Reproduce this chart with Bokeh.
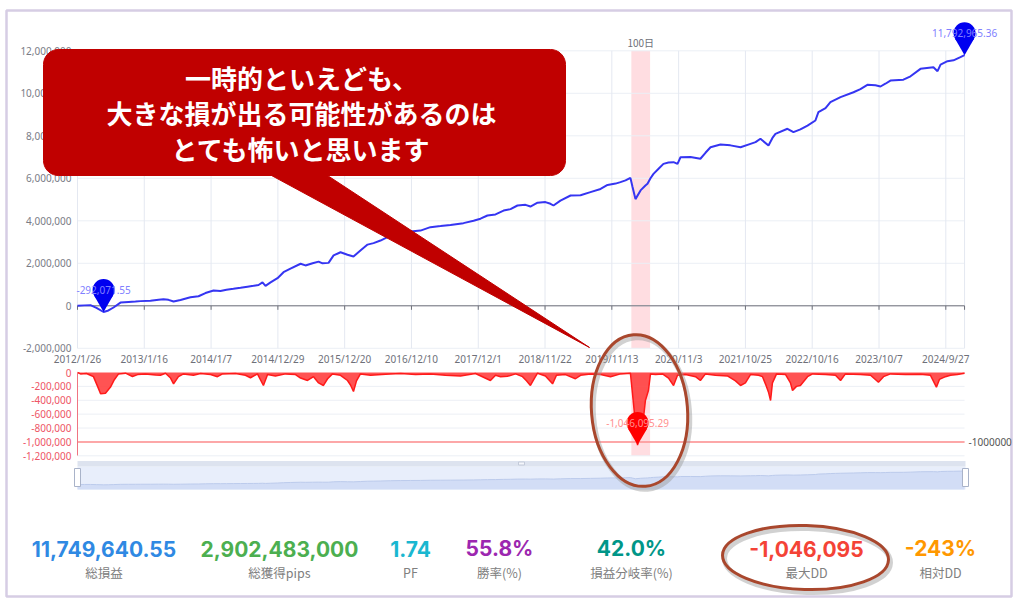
import numpy as np
from bokeh.plotting import figure
from bokeh.models import Range1d, LinearAxis, FixedTicker, NumeralTickFormatter
from bokeh.embed import file_html
from bokeh.resources import INLINE
from bokeh.core.properties import value

# ---------------- data ----------------
equity_day = [0, 37, 69, 101, 139, 165, 192, 229, 272, 309,
              336, 389, 432, 458, 485, 512, 549, 602, 645, 682,
              725, 762, 794, 831, 869, 906, 938, 965, 986, 1002,
              1029, 1066, 1098, 1135, 1189, 1215, 1253, 1285, 1306, 1338,
              1365, 1402, 1439, 1471, 1508, 1546, 1578, 1615, 1668, 1722,
              1775, 1828, 1881, 1935, 1988, 2057, 2111, 2148, 2185, 2228,
              2271, 2308, 2345, 2388, 2414, 2452, 2494, 2521, 2537, 2574,
              2628, 2681, 2734, 2788, 2825, 2868, 2894, 2921, 2947, 2958,
              2974, 3001, 3027, 3038, 3054, 3070, 3097, 3123, 3150, 3177,
              3198, 3214, 3267, 3320, 3347, 3374, 3427, 3480, 3534, 3587,
              3614, 3640, 3683, 3704, 3720, 3784, 3816, 3853, 3891, 3933,
              3949, 3987, 4013, 4040, 4067, 4136, 4173, 4210, 4253, 4280,
              4306, 4333, 4402, 4440, 4493, 4562, 4584, 4600, 4637, 4669,
              4706, 4728]
equity_val = [0, 20000, 30000, -100000, -292071.55, -220000, -80000, 150000, 180000, 200000,
              220000, 240000, 290000, 310000, 280000, 200000, 270000, 400000, 450000, 600000,
              720000, 700000, 760000, 800000, 850000, 900000, 940000, 980000, 1100000, 940000,
              1100000, 1300000, 1580000, 1750000, 1980000, 1900000, 2000000, 2080000, 2000000, 2020000,
              2370000, 2520000, 2400000, 2320000, 2600000, 2880000, 2950000, 3070000, 3300000, 3450000,
              3500000, 3540000, 3700000, 3750000, 3800000, 3890000, 4000000, 4100000, 4250000, 4300000,
              4480000, 4550000, 4720000, 4750000, 4670000, 4850000, 4880000, 4800000, 4720000, 4950000,
              5190000, 5200000, 5350000, 5500000, 5690000, 5750000, 5820000, 5900000, 6020000, 5600000,
              5020000, 5430000, 5660000, 5740000, 6000000, 6210000, 6450000, 6680000, 6740000, 6760000,
              6680000, 6990000, 7000000, 6920000, 7200000, 7460000, 7590000, 7550000, 7460000, 7620000,
              7700000, 7860000, 7540000, 7900000, 8090000, 8330000, 8170000, 8300000, 8480000, 8720000,
              9110000, 9300000, 9580000, 9700000, 9820000, 10050000, 10200000, 10400000, 10380000, 10320000,
              10450000, 10600000, 10640000, 10800000, 11150000, 11230000, 11040000, 11350000, 11510000, 11550000,
              11700000, 11792965.36]

dd_day = [0, 16, 48, 69, 85, 107, 123, 149, 176, 197,
          219, 256, 293, 320, 362, 416, 442, 469, 496, 512,
          538, 565, 618, 656, 709, 746, 773, 842, 895, 922,
          959, 991, 1013, 1055, 1109, 1162, 1189, 1226, 1258, 1285,
          1311, 1333, 1359, 1402, 1439, 1455, 1471, 1487, 1508, 1562,
          1642, 1722, 1802, 1881, 1961, 2041, 2121, 2201, 2228, 2255,
          2292, 2335, 2372, 2393, 2414, 2436, 2452, 2494, 2532, 2553,
          2601, 2654, 2681, 2734, 2788, 2841, 2894, 2947, 2958, 2969,
          2985, 3001, 3017, 3027, 3043, 3054, 3081, 3118, 3150, 3177,
          3198, 3241, 3294, 3320, 3347, 3400, 3464, 3507, 3534, 3560,
          3587, 3630, 3651, 3672, 3683, 3694, 3704, 3726, 3774, 3800,
          3811, 3832, 3853, 3891, 3918, 3987, 4040, 4067, 4093, 4173,
          4227, 4269, 4296, 4333, 4413, 4493, 4546, 4578, 4594, 4626,
          4653, 4690, 4728]
dd_val = [0, -20000, -15000, -40000, -60000, -200000, -306000, -300000, -210000, -100000,
          -20000, -10000, -58000, -30000, -20000, -35000, -40000, -10000, -80000, -163000,
          -60000, -20000, -40000, -15000, -30000, -60000, -20000, -15000, -40000, -76000,
          -20000, -187000, -30000, -50000, -20000, -30000, -80000, -115000, -60000, -150000,
          -187000, -90000, -20000, -40000, -115000, -180000, -273000, -120000, -20000, -40000,
          -25000, -15000, -30000, -20000, -40000, -50000, -15000, -115000, -40000, -60000,
          -55000, -20000, -60000, -120000, -187000, -80000, -10000, -50000, -163000, -40000,
          -30000, -90000, -40000, -20000, -30000, -60000, -20000, -10000, -302000, -600000,
          -1046095.29, -850000, -643000, -403000, -259000, -20000, -30000, -20000, -80000, -187000,
          -40000, -30000, -60000, -115000, -20000, -40000, -50000, -120000, -187000, -150000,
          -30000, -40000, -60000, -200000, -283000, -403000, -150000, -20000, -30000, -150000,
          -259000, -200000, -187000, -60000, -20000, -30000, -40000, -115000, -20000, -30000,
          -40000, -140000, -60000, -20000, -30000, -25000, -40000, -211000, -100000, -60000,
          -40000, -30000, -10000]

x_tick_days = [0, 356, 712, 1068, 1424, 1780, 2136, 2492, 2848, 3204, 3560, 3916, 4272, 4628]
x_tick_labels = ["2012/1/26", "2013/1/16", "2014/1/7", "2014/12/29", "2015/12/20", "2016/12/10",
                 "2017/12/1", "2018/11/22", "2019/11/13", "2020/11/3", "2021/10/25", "2022/10/16",
                 "2023/10/7", "2024/9/27"]
main_ticks = [-2000000, 0, 2000000, 4000000, 6000000, 8000000, 10000000, 12000000]
dd_ticks = [0, -200000, -400000, -600000, -800000, -1000000, -1200000]
dd_limit = -1000000
dd_limit_label = "-1000000"
band_start = 2952
band_days = 100
band_label = "100日"
min_point = (139, -292071.55, "-292,071.55")
max_point = (4728, 11792965.36, "11,792,965.36")
dd_min_point = (2985, -1046095.29, "-1,046,095.29")

stat_values = ["11,749,640.55", "2,902,483,000", "1.74", "55.8%", "42.0%", "-1,046,095", "-243%"]
stat_labels = ["総損益", "総獲得pips", "PF", "勝率(%)", "損益分岐率(%)", "最大DD", "相対DD"]
stat_colors = ["#2f89e3", "#4caf50", "#1ab7d0", "#9c27b0", "#009688", "#f44336", "#ff9800"]
callout_lines = ["一時的といえども、", "大きな損が出る可能性があるのは", "とても怖いと思います"]

# ---------------- layout (page pixels) ----------------
W, H = 1013, 599
CX0, CY0 = 0, 0
CX1, CY1 = CX0 + W, CY0 + H


def x_range_for(v1, p1, v2, p2):
    k = (v2 - v1) / (p2 - p1)
    return Range1d(start=v1 + (CX0 - p1) * k, end=v1 + (CX1 - p1) * k)


def y_range_for(v1, p1, v2, p2):
    k = (v2 - v1) / (p2 - p1)
    return Range1d(start=v1 + (CY1 - p1) * k, end=v1 + (CY0 - p1) * k), -k


days_rng = x_range_for(0, 77, x_tick_days[-1], 945.3)
main_rng, upp_main = y_range_for(main_ticks[-1], 50.3, main_ticks[0], 347.8)
dd_rng, upp_dd = y_range_for(dd_ticks[0], 372, dd_ticks[-1], 455.3)
sl_rng, upp_sl = y_range_for(0, 484, max(equity_val), 470.5)

p = figure(width=W, height=H, x_range=Range1d(CX0, CX1), y_range=Range1d(CY1, CY0),
           output_backend="svg", toolbar_location=None, x_axis_location=None,
           y_axis_location=None, min_border=0, outline_line_color=None,
           background_fill_color="white", border_fill_color="white")
p.xgrid.visible = False
p.ygrid.visible = False
p.extra_x_ranges = {"days": days_rng}
p.extra_y_ranges = {"main": main_rng, "dd": dd_rng, "sl": sl_rng}

NOTO = value("Noto Sans")
JP = value("Noto Sans CJK JP")
NUM = value("Inter")
last_day = equity_day[-1]
M = dict(x_range_name="days", y_range_name="main")
D = dict(x_range_name="days", y_range_name="dd")
S = dict(x_range_name="days", y_range_name="sl")

# outer frame
p.quad(left=6, right=1011, top=10, bottom=596, fill_color=None, line_color="#d6cde4", line_width=2.5)

# 100-day band
p.quad(left=band_start, right=band_start + band_days, bottom=main_ticks[0], top=main_ticks[-1],
       fill_color="#ffdde1", line_color=None, **M)
p.quad(left=band_start, right=band_start + band_days, bottom=dd_ticks[-1], top=dd_ticks[0],
       fill_color="#ffdde1", line_color=None, **D)
p.text(x=[band_start + band_days / 2], y=[main_ticks[-1] + 8 * upp_main], text=[band_label],
       text_align="center", text_baseline="middle", text_font=JP, text_font_size="10px",
       text_color="#6e7079", **M)

# grid lines
n = len(main_ticks)
p.segment(x0=[0] * n, x1=[last_day] * n, y0=main_ticks, y1=main_ticks,
          line_color="#eceff5", line_width=1, **M)
vx = x_tick_days + [last_day]
p.segment(x0=vx, x1=vx, y0=[main_ticks[0]] * len(vx), y1=[main_ticks[-1]] * len(vx),
          line_color="#e4e8f1", line_width=1, **M)
m = len(dd_ticks) - 1
p.segment(x0=[0] * m, x1=[last_day] * m, y0=dd_ticks[1:], y1=dd_ticks[1:],
          line_color="#eceff5", line_width=1, **D)

# zero axis line with tick marks
p.segment(x0=[0], x1=[last_day], y0=[0], y1=[0], line_color="#6e7079", line_width=1, **M)
p.segment(x0=vx, x1=vx, y0=[0] * len(vx), y1=[-4 * upp_main] * len(vx),
          line_color="#6e7079", line_width=1, **M)

# axes
common = dict(axis_line_color=None, major_tick_line_color=None, minor_tick_line_color=None,
              major_tick_out=0, major_tick_in=0, minor_tick_out=0, minor_tick_in=0,
              major_label_text_font="Noto Sans", major_label_text_font_size="10px")
axl = LinearAxis(x_range_name="days", y_range_name="main", fixed_location=main_ticks[0],
                 ticker=FixedTicker(ticks=x_tick_days),
                 major_label_overrides={d: s for d, s in zip(x_tick_days, x_tick_labels)},
                 major_label_standoff=4, major_label_text_color="#6e7079", **common)
p.add_layout(axl, "below")
aym = LinearAxis(y_range_name="main", fixed_location=77, ticker=FixedTicker(ticks=main_ticks),
                 formatter=NumeralTickFormatter(format="0,0"), major_label_standoff=6,
                 major_label_text_color="#7a7c86", **common)
p.add_layout(aym, "left")
cd = dict(common)
cd["axis_line_color"] = "#f07482"
ayd = LinearAxis(y_range_name="dd", fixed_location=77, bounds=(dd_ticks[-1], dd_ticks[0]),
                 ticker=FixedTicker(ticks=dd_ticks), formatter=NumeralTickFormatter(format="0,0"),
                 major_label_standoff=6, major_label_text_color="#ee5566", **cd)
p.add_layout(ayd, "left")

# equity line
p.line(equity_day, equity_val, line_color="#3535f2", line_width=2, **M)

# drawdown
p.varea(x=dd_day, y1=0, y2=dd_val, fill_color="#ff4040", fill_alpha=0.9, **D)
p.line(dd_day, dd_val, line_color="#ff1a1a", line_width=1.5, **D)
p.segment(x0=[0], x1=[last_day], y0=[dd_limit], y1=[dd_limit], line_color="#ff8c8c", line_width=1.5, **D)
p.text(x=[last_day], y=[dd_limit], text=[dd_limit_label], x_offset=4, text_align="left",
       text_baseline="middle", text_font=NOTO, text_font_size="10px", text_color="#555555", **D)


# pins
def add_pin(pt, upp, color, label_color, rng):
    x, y, label = pt
    p.scatter([x], [y + 11 * upp], marker="inverted_triangle", size=19, fill_color=color,
              line_color=None, **rng)
    p.scatter([x], [y + 22 * upp], marker="circle", size=22, fill_color=color, line_color=None, **rng)
    p.text([x], [y + 22 * upp], text=[label], text_align="center", text_baseline="middle",
           text_font=NOTO, text_font_size="10px", text_color=label_color, **rng)


add_pin(min_point, upp_main, "#0000f0", "#8080ff", M)
add_pin(max_point, upp_main, "#0000f0", "#8080ff", M)
add_pin(dd_min_point, upp_dd, "#ff0000", "#ff8f8f", D)

# data zoom slider
p.quad(left=77, right=965, top=466, bottom=489, fill_color="#e8eefb", line_color=None)
p.varea(x=equity_day, y1=-5 * upp_sl, y2=equity_val, fill_color="#d2ddf6", **S)
p.line(equity_day, equity_val, line_color="#bccbec", line_width=1, **S)
p.quad(left=77, right=965, top=460.5, bottom=466, fill_color="#dde3ef", line_color=None)
p.rect(x=[521], y=[463], width=6, height=3, fill_color="#f4f6fb", line_color="#c3cad9")
p.rect(x=[77, 965], y=[477, 477], width=6, height=18, fill_color="white", line_color="#a9b3c9")

# stats row
stat_x = [103.5, 279, 410, 499, 631, 806, 940]
p.text(x=stat_x, y=[548] * len(stat_x), text=stat_values, text_color=stat_colors,
       text_font=NUM, text_font_style="bold", text_font_size="21px",
       text_align="center", text_baseline="middle")
p.text(x=stat_x, y=[572] * len(stat_x), text=stat_labels, text_color="#808080",
       text_font=JP, text_font_size="12.5px", text_align="center", text_baseline="middle")


# callout (overlay)
def rounded_rect(x0, y0, x1, y1, r, k=10):
    xs, ys = [], []
    for cx, cy, a0 in [(x1 - r, y0 + r, -90), (x1 - r, y1 - r, 0), (x0 + r, y1 - r, 90), (x0 + r, y0 + r, 180)]:
        t = np.radians(np.linspace(a0, a0 + 90, k))
        xs += list(cx + r * np.cos(t))
        ys += list(cy + r * np.sin(t))
    return xs, ys


bx, by = rounded_rect(43, 49, 565, 175, 15)
p.patch(bx, by, fill_color="#c00000", line_color="#c00000", line_width=1, level="overlay")
p.patch([261.8, 319.4, 589], [170, 170, 347], fill_color="#c00000", line_color="#c00000",
        line_width=1, level="overlay")
p.text(x=[301] * 3, y=[77, 112, 148], text=callout_lines, text_color="white", text_font=JP,
       text_font_style="bold", text_font_size="26px", text_align="center", text_baseline="middle",
       level="overlay")

# highlight ellipses
for cx, cy, w, h, a in [(639, 410, 96, 152, 0.08), (805, 557, 166, 64, -0.03)]:
    p.ellipse(x=[cx + 2], y=[cy + 3], width=w, height=h, angle=a, fill_color=None,
              line_color="#9a9a9a", line_alpha=0.45, line_width=5, level="overlay")
    p.ellipse(x=[cx], y=[cy], width=w, height=h, angle=a, fill_color=None,
              line_color="#a9472d", line_width=3, level="overlay")

open("out.html", "w").write(file_html(p, INLINE))
